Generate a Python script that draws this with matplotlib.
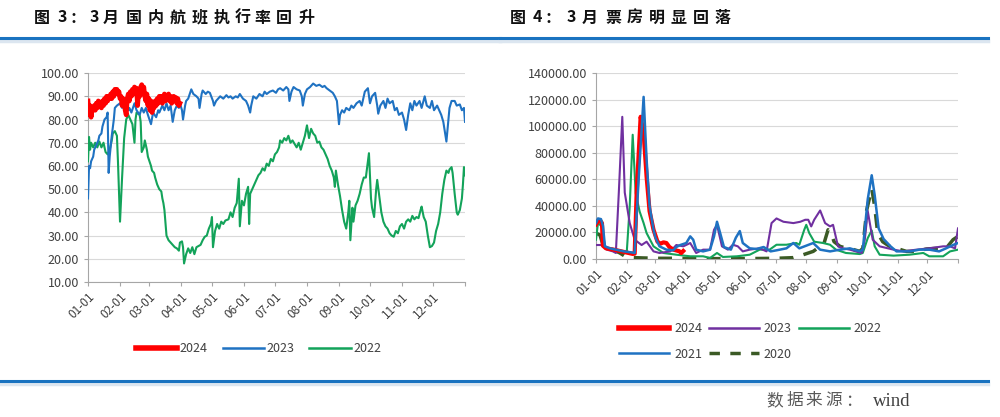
import matplotlib
matplotlib.use("Agg")
import matplotlib.pyplot as plt
from matplotlib.lines import Line2D

plt.rcParams['font.family'] = ['Noto Sans CJK SC', 'DejaVu Sans']

# ---------------- data ----------------
month_days = [0, 31, 59, 90, 120, 151, 181, 212, 243, 273, 304, 334]
month_labels = ['01-01', '02-01', '03-01', '04-01', '05-01', '06-01',
                '07-01', '08-01', '09-01', '10-01', '11-01', '12-01']

# left chart: domestic flight execution rate (%)
l24 = [(0,88),(1,82),(2,86),(3,81),(4,85),(5,84),(6,86),(7,84),(8,87),(9,85),(10,88),(11,86),(12,87),(13,85),(14,88),(15,86),(16,89),(17,87),(18,90),(19,88),(20,90),(21,89),(22,91),(23,89),(24,92),(25,90),(26,93),(27,92),(28,93),(29,91),(30,92),(31,89),(32,90),(33,86),(34,89),(35,87),(36,84),(37,82),(38,89),(39,91),(40,88),(41,92),(42,90),(43,93),(44,91),(45,94),(46,92),(47,93.5),(48,86),(49,92),(50,90),(51,94),(52,95),(53,91),(54,94),(55,90),(56,88),(57,91),(58,86),(59,89),(60,84),(61,88),(62,83),(63,87),(64,85),(65,88),(66,86),(67,89),(68,87),(69,90),(70,88),(71,90),(72,87),(73,89),(74,91),(75,88),(76,90),(77,89),(78,91),(79,88),(80,90),(81,87),(82,89),(83,90),(84,88),(85,89.5),(86,87),(87,89),(88,86),(89,87)]
l23 = [(0,46),(1,60),(2,59),(3,62),(5,64),(6,67),(8,69),(10,71),(11,73),(13,74),(14,77),(16,80),(18,81),(19,83),(20,57),(21,64),(23,73),(25,80),(26,85),(28,86),(31,87),(33,85),(35,87),(37,86),(39,84),(40,85),(42,83),(45,87),(47,84),(50,82),(52,85),(54,83),(56,85),(58,82),(61,78),(63,83),(66,81),(68,84),(69,83),(72,86),(74,84),(76,87),(78,84),(80,86),(82,79),(84,84),(86,86),(88,85),(89,87),(91,84),(92,80),(94,86),(95,88),(97,89),(100,93),(102,91),(105,90),(107,89),(108,85),(110,91),(111,92.5),(114,91),(116,92),(118,91.5),(121,88),(122,86),(124,88),(126,89),(128,90),(131,89),(134,90.5),(136,89.5),(138,90),(140,89),(143,90),(145,89.5),(147,91),(150,89),(153,88),(155,86),(157,83),(158,86),(160,90),(163,89),(166,91),(169,90),(171,92),(173,91),(176,92),(179,92.5),(182,91.5),(184,93),(186,93.5),(189,92.5),(192,94),(194,93),(195,88),(197,92),(199,94),(202,93),(205,92.5),(207,90),(208,86),(210,91),(212,93),(215,94),(218,95.5),(221,94.5),(224,95),(227,94),(229,94.5),(231,93.5),(234,92.5),(237,91.5),(239,90),(241,88),(243,78),(244,82),(246,84),(248,83),(250,85),(253,84),(255,86),(257,85),(260,87),(263,88),(265,86),(268,92),(270,93),(271,93.5),(273,87),(275,90),(278,91.5),(280,86),(281,82.5),(283,86),(286,88),(288,85),(290,89),(292,87),(295,88),(297,84),(299,85),(301,82),(304,83),(306,80),(308,75.5),(310,82),(312,87),(314,84),(316,88),(318,86),(321,88),(323,85),(326,90),(328,86),(331,85),(333,88),(335,84),(338,86),(340,84),(342,82),(344,79),(347,70.5),(349,80),(350,85),(352,88),(355,88),(357,86),(360,86.5),(362,84),(364,85),(365,79)]
l22 = [(0,62),(1,72.5),(2,67),(3,70),(5,68),(7,70),(9,68),(11,70.5),(13,68),(15,70),(17,66),(19,65),(21,67),(23,71),(24,74),(26,75),(28,73),(29,62),(31,36),(33,55),(35,72),(37,80),(39,82),(41,80),(43,78),(45,70),(46,80),(47,83),(50,82),(51,79),(52,66),(54,68),(55,71),(57,67),(58,64),(61,60),(62,58),(64,57),(65,55),(67,52),(69,50),(71,49),(72,46),(73,44),(74,41),(76,30),(78,28),(80,27),(82,26),(84,25),(86,24.5),(88,23.5),(89,27),(91,27.5),(92,25),(93,18),(95,22),(97,24.5),(99,22.5),(101,25),(103,22),(105,25),(107,25.5),(109,26),(111,28),(113,29.5),(115,30),(117,33),(119,35),(120,38),(121,25),(123,32),(125,35),(127,33),(129,36),(131,35),(133,36.5),(136,37),(138,40),(140,38),(142,42),(144,44),(146,54.5),(147,34),(149,45),(151,43),(153,48),(155,51),(156,35),(157,48),(159,50),(161,52),(163,54),(165,56),(167,57),(169,59),(171,58),(173,61),(175,60),(177,63),(179,62),(181,65),(183,66),(185,68),(186,71),(188,70),(190,72),(192,71),(194,73),(196,70),(198,71),(200,69.5),(202,68),(204,70),(206,67),(208,70),(210,73),(212,77.5),(214,72),(216,76),(218,74),(220,73),(222,70),(224,70.5),(226,68),(228,67),(230,65),(232,63),(234,60),(236,58),(238,55),(239,51),(240,58),(242,52),(244,47),(246,41),(248,36),(250,33),(252,40),(253,45),(254,28),(256,42),(257,36),(259,43),(261,45),(263,48),(265,52),(267,55),(269,55),(271,62),(272,65.5),(274,46),(275,42),(277,38),(279,50),(280,54),(282,47),(284,40),(286,36),(288,34),(290,33),(292,31),(294,30),(296,29.5),(298,32),(300,31),(302,34),(304,35),(306,33),(308,36),(310,37),(312,36),(314,38.5),(316,37),(318,38),(320,37.5),(322,41),(323,42.5),(325,38),(327,36),(329,30),(331,25),(333,25.5),(335,27),(337,32),(339,35),(341,40),(343,48),(345,54),(347,58),(349,57),(350,58.5),(352,59.5),(353,57),(355,48),(357,40),(358,39),(360,41),(362,46),(363,52),(364,59.5),(365,56)]

# right chart: box office
r24 = [(0,26000),(2,28500),(4,29000),(6,27000),(7,10000),(10,8000),(14,7500),(18,7000),(24,6000),(31,4800),(37,3800),(39,4000),(41,50000),(45,107000),(48,95000),(51,62000),(54,36000),(58,22000),(62,13000),(65,11500),(68,12500),(71,12000),(74,9000),(78,7000),(84,5800),(86,4500),(88,6000)]
r23 = [(0,10500),(7,10500),(11,7000),(17,5700),(20,4500),(23,50000),(26.5,107000),(29,50000),(34,27000),(39,14500),(46,10500),(51,13000),(58,5700),(64,4500),(75,5700),(81,10500),(88,9500),(95,12000),(101,4500),(108,7000),(115,7000),(119,22000),(122,25700),(127,9500),(133,7000),(138,10700),(143,9500),(148,5700),(155,7000),(165,8000),(172,5700),(177,27000),(182,30500),(189,28000),(199,27000),(206,28000),(211,29500),(214,29500),(217,24500),(220,29500),(226,36500),(231,27000),(236,24500),(239,25700),(244,9500),(249,8000),(256,7000),(262,5700),(268,4500),(271,14500),(274,36000),(279,14500),(286,9500),(300,7000),(310,5700),(323,7000),(336,8000),(350,9500),(357,9500),(362,8000),(365,23000)]
r22 = [(0,14500),(2,27000),(6,24500),(9,9500),(14,7000),(28,5700),(31,5000),(34,39500),(37,93500),(40,49500),(44,35700),(48,27000),(51,19500),(58,9500),(68,4500),(81,3200),(95,2000),(108,2000),(115,750),(122,4500),(128,1500),(142,2000),(155,3200),(165,7000),(175,7000),(182,10700),(192,10700),(202,12000),(205,10700),(210,22000),(212,25700),(215,19500),(220,13000),(229,12000),(236,10700),(242,7000),(252,4500),(266,3700),(269,4500),(274,15700),(278,21500),(281,9500),(286,3200),(300,2500),(316,3200),(330,4500),(336,2000),(350,2000),(357,5700),(365,7000)]
r21 = [(0,27000),(2,30500),(5,30000),(7,25000),(9,9500),(14,8000),(20,7000),(28,5700),(35,5000),(39,4500),(40,20000),(43,60000),(48,122000),(51,75000),(54,40000),(58,22000),(60,16000),(64,9500),(71,7000),(78,6500),(81,9000),(85,10500),(91,12000),(95,17000),(98,14500),(101,7000),(108,5700),(115,7000),(119,17000),(122,28000),(125,20000),(129,9000),(136,7000),(141,16000),(145,21000),(148,12000),(155,8000),(162,7500),(169,9000),(176,5700),(182,6500),(192,8000),(199,12000),(205,8000),(212,10000),(219,12000),(226,7000),(236,5700),(246,7000),(256,8000),(266,5700),(269,7000),(274,45000),(278,63000),(281,48000),(285,23000),(290,15000),(297,9500),(303,5700),(317,5700),(326,7000),(336,7000),(346,5700),(353,8000),(360,10500),(365,12000)]
r20 = [(0,19500),(4,18000),(7,10700),(14,8000),(24,4500),(31,1200),(48,750),(64,500),(81,500),(98,250),(115,250),(148,250),(182,500),(199,1000),(209,3200),(219,5700),(226,9500),(230,12000),(234,22000),(237,19500),(240,13000),(246,9500),(253,8000),(260,7000),(266,5700),(269,8000),(273,37000),(278,53000),(281,39500),(284,19500),(289,13000),(296,9500),(303,8000),(313,5700),(323,5700),(333,7500),(343,8000),(353,8000),(360,14500),(365,17000)]

title_left = '图 3：3 月国内航班执行率回升'
title_right = '图 4：3 月票房明显回落'
source_text = '数据来源：wind'

# ---------------- styles ----------------
RED = '#FF0000'
BLUE = '#1F72C2'
GREEN = '#13A35A'
PURPLE = '#7030A0'
DKGREEN = '#3B5A25'
TXT = '#404040'
HDR = '#1A73C0'
W, H = 1000, 417

fig = plt.figure(figsize=(10, 4.17), dpi=100)


def xy(pairs):
    return [p[0] for p in pairs], [p[1] for p in pairs]


def style_axes(ax, yticks, fmt):
    ax.set_xlim(0, 365)
    ax.set_xticks(month_days + [365])
    ax.set_xticklabels(month_labels + [''], rotation=45, ha='right',
                       rotation_mode='anchor', fontsize=8.5, color=TXT)
    ax.set_yticks(yticks)
    ax.set_yticklabels([fmt(v) for v in yticks], fontsize=9, color=TXT)
    ax.set_ylim(yticks[0], yticks[-1])
    ax.grid(axis='y', color='#D9D9D9', lw=0.8)
    ax.set_axisbelow(True)
    for s in ['top', 'right']:
        ax.spines[s].set_visible(False)
    for s in ['left', 'bottom']:
        ax.spines[s].set_color('#A6A6A6')
        ax.spines[s].set_linewidth(0.8)
    ax.tick_params(axis='both', colors='#A6A6A6', length=3, width=0.8,
                   labelcolor=TXT)
    ax.tick_params(axis='x', pad=3)


# left chart
ax1 = fig.add_axes([0.088, 0.3237, 0.377, 0.501])
ax1.plot(*xy(l22), color=GREEN, lw=1.5, label='2022', zorder=3)
ax1.plot(*xy(l23), color=BLUE, lw=1.5, label='2023', zorder=4)
ax1.plot(*xy(l24), color=RED, lw=3.4, label='2024', zorder=5)
style_axes(ax1, list(range(10, 101, 10)), lambda v: f'{v:.2f}')
h1 = [Line2D([], [], color=RED, lw=4), Line2D([], [], color=BLUE, lw=1.8),
      Line2D([], [], color=GREEN, lw=1.8)]
fig.legend(h1, ['2024', '2023', '2022'], loc='center', ncol=3,
           bbox_to_anchor=(0.2585, 1 - 349 / H), frameon=False,
           fontsize=9, handlelength=3.3, columnspacing=1.2, handletextpad=0.2,
           labelcolor=TXT)

# right chart
ax2 = fig.add_axes([0.596, 0.379, 0.362, 0.446])
ax2.plot(*xy(r20), color=DKGREEN, lw=2.5, ls=(0, (4, 3)), label='2020', zorder=3)
ax2.plot(*xy(r22), color=GREEN, lw=1.5, label='2022', zorder=4)
ax2.plot(*xy(r23), color=PURPLE, lw=1.5, label='2023', zorder=5)
ax2.plot(*xy(r24), color=RED, lw=3, label='2024', zorder=6)
ax2.plot(*xy(r21), color=BLUE, lw=1.8, label='2021', zorder=7)
style_axes(ax2, list(range(0, 140001, 20000)), lambda v: f'{v:.2f}')
h2 = [Line2D([], [], color=RED, lw=4), Line2D([], [], color=BLUE, lw=1.8),
      Line2D([], [], color=PURPLE, lw=1.8), Line2D([], [], color=DKGREEN, lw=2.5, ls=(0, (3, 3))),
      Line2D([], [], color=GREEN, lw=1.8)]
fig.legend(h2, ['2024', '2021', '2023', '2020', '2022'], loc='upper left', ncol=3,
           bbox_to_anchor=(0.614, 1 - 317 / H), frameon=False, borderaxespad=0,
           fontsize=9, handlelength=4.0, columnspacing=0.55, handletextpad=0.4,
           labelspacing=1.0, labelcolor=TXT)


# titles: characters placed individually to mimic the wide glyph spacing
def spaced(text, centers, y, **kw):
    for ch, cx in zip(text.replace(' ', ''), centers):
        fig.text(cx / W, 1 - y / H, ch, ha='center', va='center', **kw)


tkw = dict(fontsize=11.5, fontweight='bold', color='#111111')
spaced(title_left, [41.5, 62.5, 78, 94.5, 110.5, 134, 156, 178, 199.5,
                    221.5, 242.5, 262.5, 283.5, 306.5], 17.5, **tkw)
spaced(title_right, [517.5, 537.5, 553, 571, 589.5, 613, 635, 657,
                     679, 700.5, 722.5], 17.5, **tkw)

for (x0, x1) in [(0.0, 0.5), (0.5, 0.988)]:
    fig.add_artist(Line2D([x0, x1], [1 - 40.5 / H, 1 - 40.5 / H], color='#DCE6F0', lw=2.5))
    fig.add_artist(Line2D([x0, x1], [1 - 38 / H, 1 - 38 / H], color=HDR, lw=2.2))
fig.add_artist(Line2D([0.0, 0.988], [1 - 383.5 / H, 1 - 383.5 / H], color='#DCE6F0', lw=2.5))
fig.add_artist(Line2D([0.0, 0.988], [1 - 381 / H, 1 - 381 / H], color=HDR, lw=2.2))

skw = dict(fontsize=12, color='#595959')
spaced(source_text[:5], [775, 795, 813.5, 834, 853], 401, **skw)
fig.text(873 / W, 1 - 401 / H, source_text[5:], ha='left', va='center',
         family=['Liberation Serif', 'DejaVu Serif'], fontsize=13.5, color='#404040')

fig.savefig('out.png', dpi=100)
